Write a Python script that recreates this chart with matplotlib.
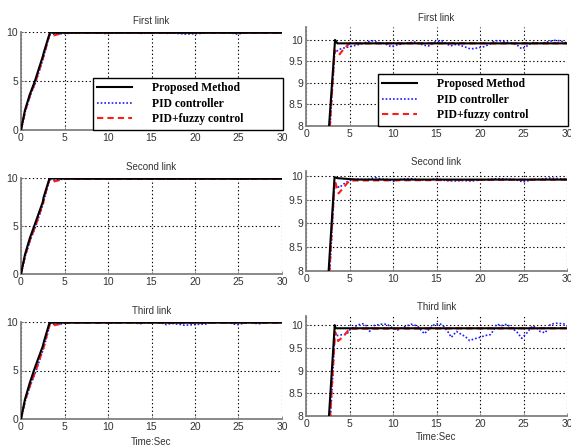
import matplotlib
matplotlib.use("Agg")
import matplotlib.pyplot as plt

# ---------------- data (time [s], value) ----------------
prop1 = [(0, 0), (0.45, 2.0), (1.0, 3.6), (1.6, 5.0), (2.5, 7.5), (2.65, 8.0),
         (3.34, 10.0), (3.6, 9.92), (30, 9.92)]
fuzzy1 = [(0, 0), (0.5, 2.0), (1.1, 3.7), (1.7, 5.0), (2.55, 7.4), (2.75, 8.0),
          (3.05, 9.0), (3.3, 9.76), (3.8, 9.65), (4.3, 9.78), (5.0, 9.92), (30, 9.92)]
pid1 = [(0, 0), (0.5, 1.9), (1.1, 3.6), (1.7, 4.9), (2.55, 7.3), (2.75, 7.95),
        (3.05, 8.95), (3.3, 9.7), (3.8, 9.78), (4.5, 9.82), (5.4, 9.86), (6.2, 9.90),
        (7.0, 9.95), (7.6, 9.98), (8.2, 9.94), (9.0, 9.92), (9.8, 9.84), (10.4, 9.88),
        (11.4, 9.92), (12.5, 9.95), (13.5, 9.88), (14.1, 9.86), (14.9, 9.96), (15.6, 9.98),
        (16.6, 9.86), (17.3, 9.90), (18.1, 9.85), (18.9, 9.79), (19.6, 9.81), (20.4, 9.84),
        (21.1, 9.90), (21.7, 9.98), (22.3, 9.98), (23.1, 9.95), (23.8, 9.92), (24.4, 9.86),
        (24.8, 9.79), (25.4, 9.86), (26.0, 9.94), (27.0, 9.92), (27.7, 9.95), (28.5, 9.99),
        (29.2, 9.98), (29.8, 9.94), (30, 9.93)]

prop2 = [(0, 0), (0.45, 2.0), (1.0, 3.7), (1.6, 5.2), (2.5, 7.5), (2.6, 8.0),
         (3.28, 9.97), (3.6, 9.95), (5.0, 9.93), (6.0, 9.92), (30, 9.92)]
fuzzy2 = [(0, 0), (0.5, 2.0), (1.1, 3.7), (1.7, 5.1), (2.55, 7.4), (2.7, 8.0),
          (3.0, 9.0), (3.3, 9.9), (3.75, 9.63), (4.3, 9.75), (5.0, 9.9), (30, 9.92)]
pid2 = [(0, 0), (0.5, 1.9), (1.1, 3.6), (1.7, 5.0), (2.55, 7.3), (2.72, 7.95),
        (3.02, 8.95), (3.3, 9.85), (3.8, 9.75), (4.5, 9.85), (5.0, 9.9), (6.0, 9.93),
        (7.0, 9.92), (8.0, 9.96), (8.7, 9.93), (9.5, 9.92), (10.0, 9.88), (11.0, 9.93),
        (12.0, 9.94), (13.0, 9.92), (14.0, 9.91), (15.0, 9.94), (16.0, 9.90), (17.0, 9.89),
        (18.0, 9.90), (19.0, 9.89), (20.0, 9.91), (21.0, 9.92), (22.0, 9.94), (23.0, 9.93),
        (24.0, 9.92), (25.0, 9.87), (26.0, 9.92), (27.0, 9.93), (28.0, 9.95), (29.0, 9.94),
        (30, 9.93)]

prop3 = [(0, 0), (0.45, 2.0), (1.0, 3.7), (1.6, 5.3), (2.5, 7.5), (2.64, 8.0),
         (3.3, 10.0), (3.4, 9.93), (30, 9.93)]
fuzzy3 = [(0, 0), (0.5, 2.0), (1.1, 3.6), (1.7, 5.0), (2.6, 7.4), (2.78, 8.0),
          (3.08, 9.0), (3.35, 9.85), (3.7, 9.65), (4.3, 9.75), (5.0, 9.92), (30, 9.93)]
pid3 = [(0, 0), (0.5, 1.9), (1.1, 3.5), (1.7, 4.9), (2.6, 7.3), (2.8, 7.95),
        (3.1, 8.95), (3.3, 9.8), (3.6, 9.77), (4.2, 9.79), (4.7, 9.80), (5.0, 9.89),
        (5.4, 9.94), (5.9, 10.0), (6.5, 10.03), (7.0, 9.98), (7.3, 9.86), (7.8, 9.99),
        (8.6, 10.02), (9.3, 10.02), (9.9, 9.94), (10.5, 9.89), (11.3, 9.96), (12.1, 10.02),
        (12.8, 9.98), (13.6, 9.81), (14.2, 9.92), (14.8, 10.02), (15.4, 10.03), (15.8, 9.98),
        (16.4, 9.83), (16.7, 9.73), (17.3, 9.86), (17.9, 9.79), (18.3, 9.75), (18.8, 9.66),
        (19.4, 9.70), (20.0, 9.73), (20.6, 9.77), (21.2, 9.79), (21.6, 9.90), (21.9, 10.02),
        (22.5, 9.99), (23.1, 10.02), (23.6, 9.94), (24.2, 9.86), (24.8, 9.71), (25.4, 9.83),
        (26.0, 9.98), (26.5, 9.94), (26.9, 9.86), (27.5, 9.83), (28.1, 10.02), (28.8, 10.04),
        (29.6, 10.03), (30, 9.98)]

titles = ["First link", "Second link", "Third link"]
legend_labels = ["Proposed Method", "PID controller", "PID+fuzzy control"]
xticks = [0, 5, 10, 15, 20, 25, 30]
left_yticks = [0, 5, 10]
right_yticks = [8, 8.5, 9, 9.5, 10]
right_yticklabels = ["8", "8.5", "9", "9.5", "10"]
right_ytop = [10.3, 10.1, 10.2]
xlabel = "Time:Sec"

links = [(prop1, pid1, fuzzy1), (prop2, pid2, fuzzy2), (prop3, pid3, fuzzy3)]

# ---------------- figure ----------------
plt.rcParams['font.family'] = ['Liberation Sans', 'DejaVu Sans']
fig = plt.figure(figsize=(5.71, 4.48), dpi=100)

W = 571.0
H = 448.0
left_pos = [(21, 32, 130), (21, 178, 274), (21, 322, 419)]
right_pos = [(306, 27, 126), (306, 171, 271), (306, 316, 416)]
axw = 261.0

text_col = '#333333'
grid_style = dict(color='black', linestyle=(0, (1.2, 2.2)), linewidth=0.8)


def style(ax):
    for s in ['top', 'right']:
        ax.spines[s].set_visible(False)
    for s in ['left', 'bottom']:
        ax.spines[s].set_color('#808080')
        ax.spines[s].set_linewidth(1.3)
    ax.tick_params(direction='in', length=2, width=0.6, colors='#808080',
                   labelcolor=text_col, labelsize=7.5, pad=2)
    ax.grid(True, **grid_style)
    ax.set_axisbelow(True)
    ax.set_xlim(0, 30)
    ax.set_xticks(xticks)


def draw(ax, data):
    prop, pid, fuzzy = data
    h1, = ax.plot([p[0] for p in prop], [p[1] for p in prop], color='black', lw=1.5,
                  label=legend_labels[0], zorder=4)
    h2, = ax.plot([p[0] for p in pid], [p[1] for p in pid], color='#1a1aff', lw=1.2,
                  linestyle=(0, (1, 1.2)), label=legend_labels[1], zorder=3)
    h3, = ax.plot([p[0] for p in fuzzy], [p[1] for p in fuzzy], color='#ff1a1a', lw=1.5,
                  linestyle=(0, (3, 2)), label=legend_labels[2], zorder=3.5)
    return [h1, h2, h3]


def add_legend(ax):
    leg = ax.legend(loc='lower left', bbox_to_anchor=(0.276, 0.005, 0.726, 0.48),
                    mode='expand', borderaxespad=0, fancybox=False,
                    prop={'family': 'Liberation Serif', 'weight': 'bold', 'size': 8.4},
                    handlelength=3.0, handletextpad=1.7, labelspacing=0.3,
                    borderpad=0.35, framealpha=1)
    leg.get_frame().set_edgecolor('black')
    leg.get_frame().set_linewidth(1.0)
    leg.set_zorder(10)


for i in range(3):
    x0, top, bot = left_pos[i]
    axL = fig.add_axes([x0 / W, 1 - bot / H, axw / W, (bot - top) / H])
    style(axL)
    draw(axL, links[i])
    axL.set_ylim(0, 10)
    axL.set_yticks(left_yticks)
    axL.set_title(titles[i], fontsize=7, color=text_col, pad=5.5)

    x0, top, bot = right_pos[i]
    axR = fig.add_axes([x0 / W, 1 - bot / H, axw / W, (bot - top) / H])
    style(axR)
    draw(axR, links[i])
    axR.set_ylim(8, right_ytop[i])
    axR.set_yticks(right_yticks)
    axR.set_yticklabels(right_yticklabels)
    axR.set_title(titles[i], fontsize=7, color=text_col, pad=4.5)

    if i == 0:
        add_legend(axL)
        add_legend(axR)
    if i == 2:
        axL.set_xlabel(xlabel, fontsize=7, color=text_col, labelpad=4)
        axR.set_xlabel(xlabel, fontsize=7, color=text_col, labelpad=2)

fig.savefig("out.png", dpi=100)
